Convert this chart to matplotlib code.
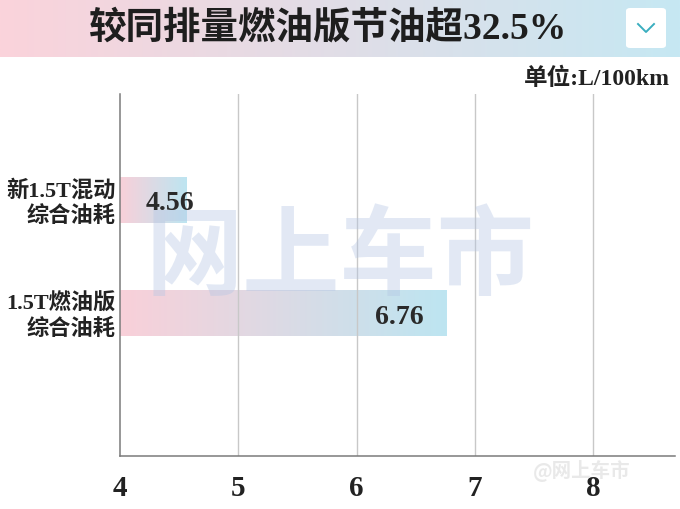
import numpy as np
import matplotlib.pyplot as plt
from matplotlib.colors import LinearSegmentedColormap
from matplotlib.patches import FancyBboxPatch
from matplotlib.lines import Line2D
from matplotlib.transforms import blended_transform_factory

plt.rcParams['font.family'] = ['Liberation Serif', 'Noto Sans CJK SC', 'DejaVu Sans']

# data
title = "较同排量燃油版节油超32.5%"
unit_label = "单位:L/100km"
categories = ["新1.5T混动\n综合油耗", "1.5T燃油版\n综合油耗"]
values = [4.56, 6.76]
value_labels = ["4.56", "6.76"]
x_ticks = [4, 5, 6, 7, 8]

W, H = 680, 510
fig = plt.figure(figsize=(6.8, 5.1), dpi=100)
fig.patch.set_facecolor("white")

banner_cmap = LinearSegmentedColormap.from_list("banner", ["#fbd3db", "#c6e8f3"])
bar_cmap = LinearSegmentedColormap.from_list("bar", ["#f9d0d9", "#bde5f1"])
grad = np.linspace(0, 1, 256).reshape(1, -1)

# header band
ban = fig.add_axes([0, 1 - 58 / H, 1, 58 / H])
ban.imshow(grad, cmap=banner_cmap, aspect="auto", extent=(0, 1, 0, 1))
ban.set_xlim(0, 1)
ban.set_ylim(0, 1)
ban.axis("off")

fig.text(328 / W, 1 - 29 / H, title, ha="center", va="center",
         fontsize=27, fontweight="bold", color="#1e1e1e")

# little dropdown box
box = FancyBboxPatch((626 / W, 1 - 49 / H), 40 / W, 40 / H,
                     boxstyle="round,pad=0,rounding_size=0.006",
                     transform=fig.transFigure, facecolor="white",
                     edgecolor="none", zorder=5)
fig.patches.append(box)
fig.lines.append(Line2D([638 / W, 646 / W, 654 / W],
                        [1 - 25 / H, 1 - 33 / H, 1 - 25 / H],
                        transform=fig.transFigure, color="#3aaebf", lw=1.4, zorder=6))

fig.text(670 / W, 1 - 79 / H, unit_label, ha="right", va="center",
         fontsize=17, fontweight="bold", color="#222222")

# main axes
ax = fig.add_axes([120 / W, 1 - 457 / H, 555 / W, 362 / H])
ypos = [1, 0]
bar_h = 0.40
for y, v in zip(ypos, values):
    ax.imshow(grad, cmap=bar_cmap, aspect="auto",
              extent=(x_ticks[0], v, y - bar_h / 2, y + bar_h / 2), zorder=1)

for t in x_ticks[1:]:
    ax.axvline(t, color="#c8c8c8", lw=1, zorder=2)

ax.set_xlim(4, 8.69)
ax.set_ylim(-1.256, 1.934)

for s in ["top", "right"]:
    ax.spines[s].set_visible(False)
for s in ["left", "bottom"]:
    ax.spines[s].set_color("#7a7a7a")
    ax.spines[s].set_linewidth(1.1)

ax.set_yticks([])
ax.set_xticks(x_ticks)
ax.set_xticklabels([str(t) for t in x_ticks], fontweight="bold", color="#222222")
ax.tick_params(axis="x", length=0, pad=13, labelsize=21)

trans = blended_transform_factory(ax.transAxes, ax.transData)
for y, lab in zip(ypos, categories):
    ax.text(-4 / 555, y - 0.02, lab, transform=trans, ha="right", va="center",
            fontsize=16, fontweight="bold", color="#222222", linespacing=1.3)

offsets = [-16, -47]
for y, v, lab, off in zip(ypos, values, value_labels, offsets):
    ax.annotate(lab, (v, y), xytext=(off * 0.72, -2), textcoords="offset points",
                ha="center", va="center", fontsize=20, fontweight="bold",
                color="#2a2a2a", zorder=4)

# watermarks
fig.text(340 / W, 1 - 259 / H, "网上车市", ha="center", va="center",
         fontsize=70, fontweight="heavy", color="#b3c5e4", alpha=0.38,
         family=["Noto Sans CJK SC"], zorder=10)
fig.text(582 / W, 1 - 471 / H, "@网上车市", ha="center", va="center",
         fontsize=14, fontweight="bold", color="#e4e4e4", alpha=0.8,
         family=["Noto Sans CJK SC"], zorder=10)

fig.savefig("out.png", dpi=100)
